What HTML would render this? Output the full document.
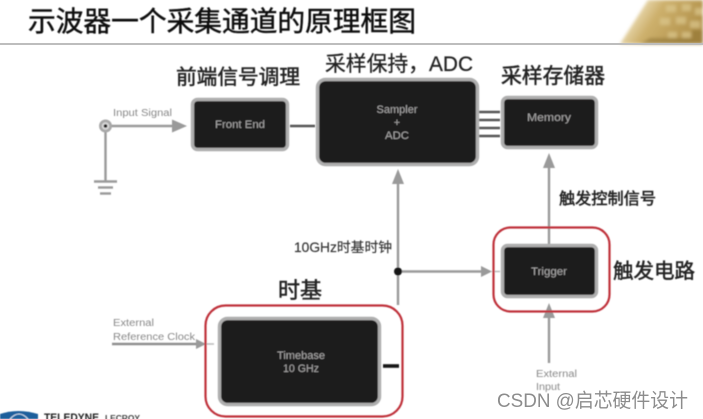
<!DOCTYPE html>
<html>
<head>
<meta charset="utf-8">
<style>
html,body{margin:0;padding:0;background:#fff;width:703px;height:419px;overflow:hidden}
svg{display:block}
text{font-family:"Liberation Sans","Noto Sans CJK SC",sans-serif}
</style>
</head>
<body>
<svg width="703" height="419" viewBox="0 0 703 419" xmlns="http://www.w3.org/2000/svg">
<defs>
<filter id="b" x="-5%" y="-5%" width="110%" height="110%"><feGaussianBlur stdDeviation="0.6"/></filter>
<filter id="b2" x="-20%" y="-20%" width="140%" height="140%"><feGaussianBlur stdDeviation="1.6"/></filter>
<linearGradient id="g" x1="0" y1="0" x2="1" y2="0.35">
<stop offset="0" stop-color="#fff"/>
<stop offset="0.22" stop-color="#eee0bb"/>
<stop offset="0.5" stop-color="#cdb06c"/>
<stop offset="1" stop-color="#b3934c"/>
</linearGradient>
</defs>
<rect width="703" height="419" fill="#fff"/>

<!-- gold corner -->
<g filter="url(#b2)">
<polygon points="620,44 648,0 703,0 703,44" fill="url(#g)"/>
<g fill="#dcc88e" opacity=".7">
<rect x="666" y="5" width="10" height="7"/><rect x="682" y="4" width="9" height="7"/><rect x="695" y="8" width="8" height="7"/>
<rect x="660" y="18" width="10" height="7"/><rect x="676" y="17" width="10" height="7"/><rect x="690" y="21" width="10" height="7"/>
<rect x="668" y="32" width="9" height="6"/><rect x="682" y="32" width="9" height="6"/>
</g>
<g fill="#8d7233" opacity=".55">
<polygon points="640,44 703,44 703,38 650,38"/>
<rect x="692" y="30" width="11" height="8"/>
</g>
</g>
<rect x="0" y="43" width="703" height="2" fill="#bdbdbd"/>

<g filter="url(#b)">
<!-- title -->
<text x="28" y="31" font-size="27.6" fill="#111" stroke="#111" stroke-width=".45" textLength="388" lengthAdjust="spacingAndGlyphs">示波器一个采集通道的原理框图</text>

<!-- headings -->
<g fill="#222" stroke="#222" stroke-width=".5">
<text x="176" y="84" font-size="20.7" textLength="124" lengthAdjust="spacingAndGlyphs">前端信号调理</text>
<text x="501" y="83" font-size="20.8" textLength="104" lengthAdjust="spacingAndGlyphs">采样存储器</text>
<text x="559" y="204" font-size="16" textLength="97" lengthAdjust="spacingAndGlyphs">触发控制信号</text>
<text x="278" y="298" font-size="22" textLength="44" lengthAdjust="spacingAndGlyphs">时基</text>
<text x="613" y="278" font-size="20.5" textLength="82" lengthAdjust="spacingAndGlyphs">触发电路</text>
</g>
<text x="325" y="71" font-size="21" fill="#222" stroke="#222" stroke-width=".25" textLength="148" lengthAdjust="spacingAndGlyphs">采样保持，ADC</text>
<text x="294" y="252" font-size="13.6" fill="#333" stroke="#333" stroke-width=".15" textLength="98" lengthAdjust="spacingAndGlyphs">10GHz时基时钟</text>

<!-- connectors -->
<g stroke="#9a9a9a" stroke-width="2.4" fill="none">
<line x1="106" y1="126" x2="174" y2="126"/>
<line x1="105.5" y1="126" x2="105.5" y2="181"/>
<line x1="94" y1="181.5" x2="117" y2="181.5"/>
<line x1="98" y1="187.5" x2="113" y2="187.5"/>
<line x1="100" y1="193.5" x2="111" y2="193.5"/>
<line x1="398" y1="305" x2="398" y2="180"/>
<line x1="398" y1="271.5" x2="484" y2="271.5"/>
<line x1="549" y1="244" x2="549" y2="165"/>
<line x1="549" y1="363" x2="549" y2="315"/>
<line x1="112" y1="344" x2="196" y2="344" stroke="#8f8f8f"/>
</g>
<g fill="#9a9a9a">
<polygon points="187,126 172,119.5 172,132.5"/>
<polygon points="398,169 392,184 404,184"/>
<polygon points="549,153 543,168 555,168"/>
<polygon points="492,271.5 481,266 481,277"/>
<polygon points="549,303 543,318 555,318"/>
<polygon points="206,344 196,339 196,349"/>
</g>
<line x1="492" y1="271.5" x2="500" y2="271.5" stroke="#bbb" stroke-width="1.5"/>
<line x1="206" y1="344" x2="214" y2="344" stroke="#bbb" stroke-width="1.5"/>
<circle cx="105.5" cy="126" r="6.5" fill="#a8a8a8"/>
<circle cx="105.5" cy="126" r="3.8" fill="#d8d8d8"/>
<circle cx="105.5" cy="126" r="1.8" fill="#1d1a1a"/>
<circle cx="398" cy="271.5" r="4" fill="#151515"/>

<g stroke="#555" stroke-width="2.4">
<line x1="290" y1="126" x2="315" y2="126"/>
<line x1="479" y1="112" x2="500" y2="112"/>
<line x1="479" y1="120" x2="500" y2="120"/>
<line x1="479" y1="128" x2="500" y2="128"/>
<line x1="479" y1="136" x2="500" y2="136"/>
</g>
<line x1="383" y1="366" x2="399" y2="366" stroke="#151515" stroke-width="3.6"/>

<!-- boxes -->
<g fill="#1f1a1b" stroke="#aeaeae" stroke-width="3.4">
<rect x="192.5" y="99.5" width="95" height="50" rx="5"/>
<rect x="317.5" y="79.5" width="160" height="85" rx="8"/>
<rect x="502.5" y="97.5" width="94" height="50" rx="5"/>
<rect x="502.5" y="245.5" width="94" height="51" rx="5"/>
<rect x="219.5" y="318.5" width="160" height="86" rx="8"/>
</g>

<!-- red rings -->
<g fill="none" stroke="#bf303b" stroke-width="2.2">
<rect x="205.5" y="305.5" width="197" height="111" rx="20"/>
<rect x="493.5" y="227.5" width="116" height="84" rx="17"/>
</g>

<!-- box labels -->
<g font-size="11" fill="#a6a6a6" text-anchor="middle">
<text x="240" y="128" textLength="50" lengthAdjust="spacingAndGlyphs">Front End</text>
<text x="397" y="113" textLength="41" lengthAdjust="spacingAndGlyphs">Sampler</text>
<text x="397" y="126">+</text>
<text x="397" y="139" textLength="24" lengthAdjust="spacingAndGlyphs">ADC</text>
<text x="549" y="121" textLength="44" lengthAdjust="spacingAndGlyphs">Memory</text>
<text x="549" y="275" textLength="36" lengthAdjust="spacingAndGlyphs">Trigger</text>
<text x="301" y="359" textLength="48" lengthAdjust="spacingAndGlyphs">Timebase</text>
<text x="301" y="372" textLength="36" lengthAdjust="spacingAndGlyphs">10 GHz</text>
</g>

<!-- signal labels -->
<g font-size="10" fill="#888">
<text x="113" y="116" textLength="59" lengthAdjust="spacingAndGlyphs">Input Signal</text>
<text x="113" y="326" textLength="41" lengthAdjust="spacingAndGlyphs">External</text>
<text x="113" y="340" textLength="82" lengthAdjust="spacingAndGlyphs">Reference Clock</text>
<text x="536" y="377" textLength="41" lengthAdjust="spacingAndGlyphs">External</text>
<text x="536" y="390" textLength="24" lengthAdjust="spacingAndGlyphs">Input</text>
</g>

<!-- logo -->
<path d="M0 419 L0 414 Q18 408 38 414 L38 419 Z" fill="#1d5f9c"/>
<path d="M10 419 Q19 409 28 419" fill="none" stroke="#cfe0ee" stroke-width="1"/>
<text x="44" y="421" font-size="11" font-weight="700" fill="#222" textLength="55" lengthAdjust="spacingAndGlyphs">TELEDYNE</text>
<text x="105" y="421" font-size="8" font-weight="700" fill="#444" textLength="35" lengthAdjust="spacingAndGlyphs">LECROY</text>
</g>

<!-- watermark -->
<text x="497" y="407" font-size="19.5" fill="#8c8c8c" textLength="191" lengthAdjust="spacingAndGlyphs">CSDN @启芯硬件设计</text>
</svg>
</body>
</html>
